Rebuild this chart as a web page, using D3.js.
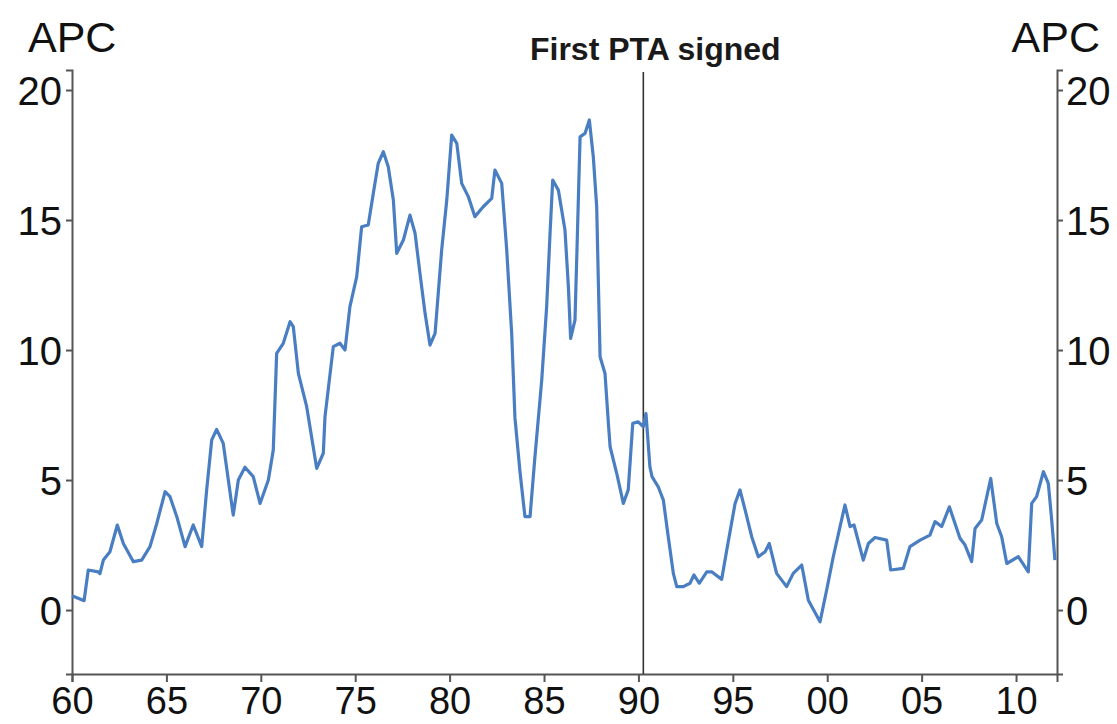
<!DOCTYPE html>
<html>
<head>
<meta charset="utf-8">
<script src="https://cdn.jsdelivr.net/npm/d3@7"></script>
<style>
  html, body { margin: 0; padding: 0; background: #fff; }
  svg { display: block; font-family: "Liberation Sans", Arial, sans-serif; }
</style>
</head>
<body>
<svg id="chart" width="1117" height="724"></svg>
<script>
// ---- data ----
const years = [1960.0,1960.64,1960.86,1961.39,1961.48,1961.66,1962.01,1962.40,1962.72,1963.25,1963.69,1964.13,1964.49,1964.93,1965.19,1965.55,1965.99,1966.42,1966.87,1967.13,1967.40,1967.66,1968.01,1968.28,1968.54,1968.81,1969.16,1969.60,1969.96,1970.40,1970.66,1970.84,1971.19,1971.55,1971.72,1971.99,1972.43,1972.96,1973.31,1973.40,1973.84,1974.19,1974.46,1974.72,1975.08,1975.34,1975.69,1975.96,1976.22,1976.49,1976.75,1977.02,1977.20,1977.55,1977.90,1978.17,1978.43,1978.70,1978.96,1979.23,1979.58,1979.85,1980.11,1980.38,1980.64,1980.99,1981.34,1981.78,1982.23,1982.40,1982.76,1983.02,1983.29,1983.46,1983.73,1983.99,1984.26,1984.52,1984.88,1985.14,1985.32,1985.46,1985.76,1986.11,1986.29,1986.41,1986.64,1986.76,1986.91,1987.17,1987.40,1987.61,1987.79,1987.88,1987.97,1988.23,1988.41,1988.50,1988.85,1989.20,1989.46,1989.70,1989.99,1990.26,1990.40,1990.61,1990.72,1991.05,1991.32,1991.58,1991.85,1992.03,1992.38,1992.73,1992.94,1993.22,1993.62,1993.88,1994.41,1994.68,1995.12,1995.38,1995.65,1996.00,1996.35,1996.71,1996.93,1997.32,1997.85,1998.20,1998.65,1999.00,1999.62,1999.97,2000.32,2000.68,2000.94,2001.21,2001.42,2001.91,2002.18,2002.53,2003.15,2003.36,2004.03,2004.38,2004.92,2005.44,2005.71,2006.06,2006.47,2007.03,2007.30,2007.65,2007.83,2008.18,2008.66,2008.98,2009.24,2009.51,2010.12,2010.65,2010.83,2011.09,2011.45,2011.71,2011.89,2012.06];
const apc = [0.55,0.36,1.54,1.47,1.40,1.92,2.24,3.27,2.56,1.86,1.92,2.44,3.33,4.55,4.36,3.59,2.44,3.27,2.44,4.6,6.54,6.95,6.41,5.0,3.65,5.0,5.49,5.13,4.1,5.0,6.15,9.87,10.26,11.09,10.9,9.1,7.82,5.45,6.03,7.44,10.13,10.26,10.0,11.67,12.82,14.74,14.81,16.03,17.18,17.63,17.05,15.77,13.72,14.23,15.19,14.49,12.95,11.41,10.19,10.64,13.85,15.77,18.27,17.95,16.41,15.9,15.13,15.51,15.83,16.92,16.41,13.9,10.6,7.4,5.3,3.59,3.59,5.9,8.85,11.67,14.49,16.54,16.15,14.62,12.44,10.45,11.15,14.23,18.2,18.33,18.85,17.44,15.51,12.56,9.74,9.1,7.18,6.28,5.26,4.1,4.62,7.18,7.24,7.05,7.56,5.5,5.13,4.74,4.23,2.82,1.41,0.9,0.9,1.03,1.35,1.03,1.47,1.47,1.18,2.31,4.1,4.62,3.85,2.82,2.05,2.24,2.56,1.41,0.9,1.41,1.73,0.38,-0.45,0.77,2.05,3.21,4.04,3.21,3.27,1.92,2.56,2.79,2.69,1.54,1.6,2.44,2.69,2.88,3.4,3.21,3.97,2.76,2.5,1.86,3.14,3.46,5.06,3.33,2.82,1.79,2.05,1.47,4.1,4.36,5.32,4.87,3.46,1.92];

const xTickValues = [1960,1965,1970,1975,1980,1985,1990,1995,2000,2005,2010];
const xTickLabels = ["60","65","70","75","80","85","90","95","00","05","10"];
const yTickValues = [0,5,10,15,20];
const unitLabel = "APC";
const eventYear = 1990.26;
const eventLabel = "First PTA signed";

// ---- layout ----
const svg = d3.select("#chart");
const mLeft = 72, mRight = 1057, mTop = 70, mBottom = 674;

const x = d3.scaleLinear().domain([1960, 2012.17]).range([mLeft, mRight]);
const y = d3.scaleLinear().domain([-2.46, 20.77]).range([mBottom, mTop]);

const axisColor = "#555";

const gL = svg.append("g").attr("transform", `translate(${mLeft},0)`)
  .call(d3.axisLeft(y).tickValues(yTickValues).tickSize(6).tickPadding(4).tickFormat(d3.format("d")));
const gR = svg.append("g").attr("transform", `translate(${mRight},0)`)
  .call(d3.axisRight(y).tickValues(yTickValues).tickSize(6).tickPadding(3).tickFormat(d3.format("d")));
const gB = svg.append("g").attr("transform", `translate(0,${mBottom})`)
  .call(d3.axisBottom(x).tickValues(xTickValues).tickSize(8).tickPadding(4)
    .tickFormat((d, i) => xTickLabels[i]));

[gL, gR, gB].forEach(g => {
  g.select(".domain").attr("stroke", axisColor).attr("stroke-width", 2);
  g.selectAll(".tick line").attr("stroke", axisColor).attr("stroke-width", 2);
  g.selectAll(".tick text").attr("fill", "#111").style("font-size", "40px")
    .style("font-family", "'Liberation Sans', Arial, sans-serif");
});
gL.selectAll(".tick text").attr("dy", "0.36em");
gR.selectAll(".tick text").attr("dy", "0.36em");
gB.selectAll(".tick text").style("font-size", "38px").attr("dy", "0.74em");

svg.append("text").attr("x", 28).attr("y", 52).text(unitLabel)
  .style("font-size", "43px").attr("fill", "#111");
svg.append("text").attr("x", 1100).attr("y", 52).attr("text-anchor", "end").text(unitLabel)
  .style("font-size", "43px").attr("fill", "#111");

svg.append("line")
  .attr("x1", x(eventYear)).attr("x2", x(eventYear))
  .attr("y1", mTop + 2).attr("y2", mBottom)
  .attr("stroke", "#333").attr("stroke-width", 1.6);
svg.append("text").attr("x", x(eventYear) + 12).attr("y", 60)
  .attr("text-anchor", "middle").text(eventLabel)
  .style("font-size", "32px").style("font-weight", "bold").attr("fill", "#1a1a1a");

const line = d3.line().x((d, i) => x(years[i])).y(d => y(d)).curve(d3.curveLinear);
svg.append("path").datum(apc)
  .attr("d", line)
  .attr("fill", "none")
  .attr("stroke", "#4a7ec2")
  .attr("stroke-width", 3.2)
  .attr("stroke-linejoin", "round");
</script>
</body>
</html>
